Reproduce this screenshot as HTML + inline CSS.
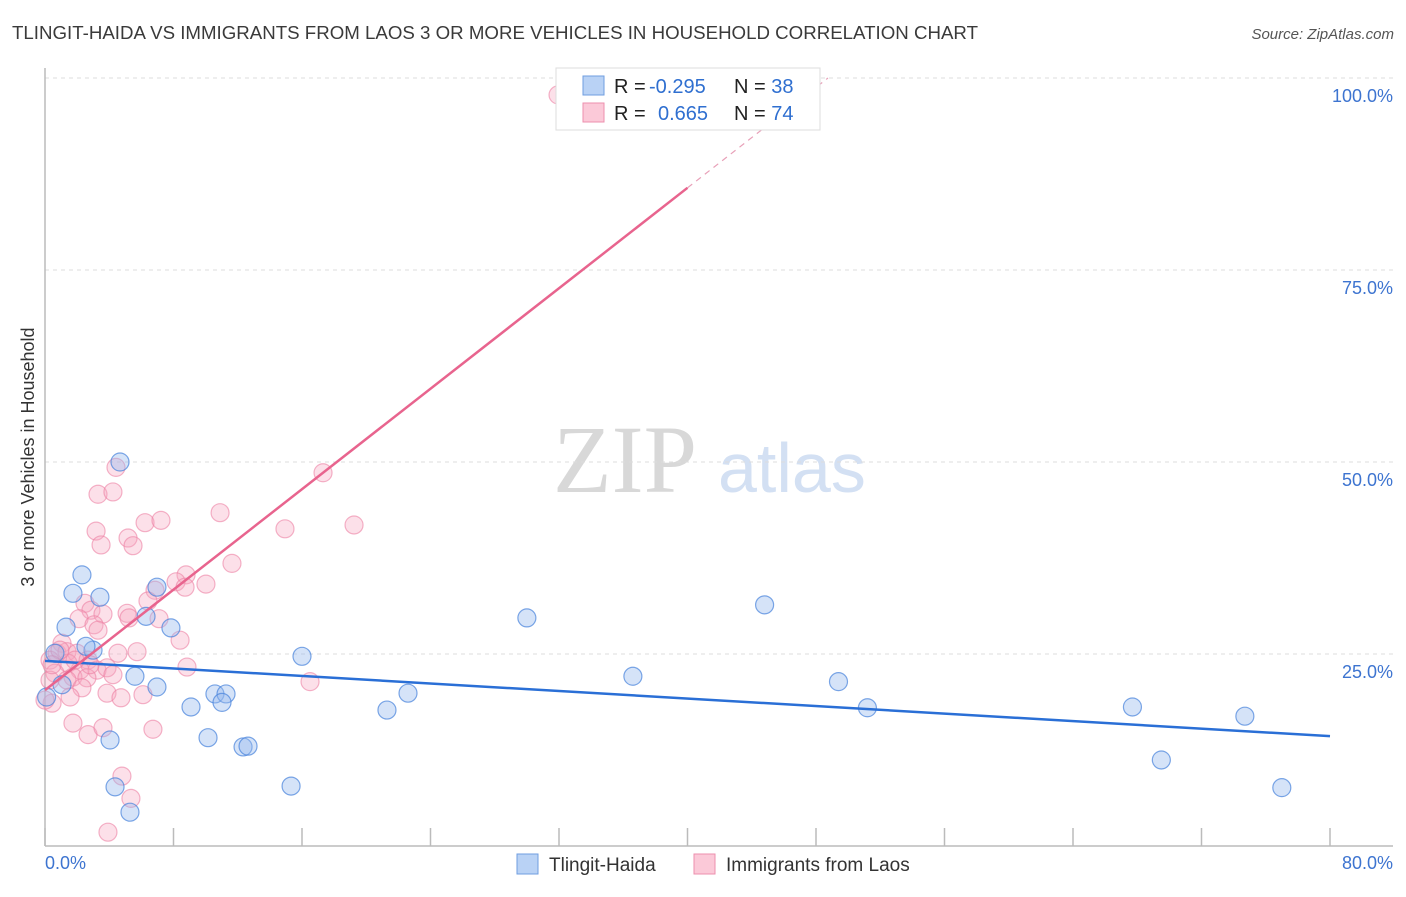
<!DOCTYPE html>
<html><head><meta charset="utf-8"><style>
body{margin:0;background:#fff;font-family:"Liberation Sans",sans-serif}
svg text{font-family:"Liberation Sans",sans-serif}
</style></head><body>
<svg id="c" width="1406" height="892" viewBox="0 0 1406 892" xmlns="http://www.w3.org/2000/svg">
<text x="12" y="39" font-size="18" fill="#3a3a3a" textLength="966" lengthAdjust="spacingAndGlyphs">TLINGIT-HAIDA VS IMMIGRANTS FROM LAOS 3 OR MORE VEHICLES IN HOUSEHOLD CORRELATION CHART</text>
<text x="1394" y="39" font-size="15" fill="#555" font-style="italic" text-anchor="end">Source: ZipAtlas.com</text>
<g>
<text x="553" y="492" font-size="96" fill="#d8d8d8" font-family="Liberation Serif,serif" style="font-family:'Liberation Serif',serif">ZIP</text>
<text x="718" y="492" font-size="70" fill="#d3e0f3">atlas</text>
</g>
<g id="grid"></g>
<g id="axes"></g>
<g id="marks"></g>
<text transform="translate(34,457) rotate(-90)" font-size="18" fill="#333" text-anchor="middle">3 or more Vehicles in Household</text>
<g>
<rect x="556" y="68" width="264" height="62" fill="#fff" stroke="#ddd"/>
<rect x="583" y="76" width="21" height="19" fill="#b9d2f5" stroke="#6f9ee0"/>
<rect x="583" y="103" width="21" height="19" fill="#fbc9d8" stroke="#ec8fae"/>
<text x="614" y="93" font-size="20" fill="#222">R = <tspan fill="#2f6fd0" x="649">-0.295</tspan></text>
<text x="734" y="93" font-size="20" fill="#222">N = <tspan fill="#2f6fd0">38</tspan></text>
<text x="614" y="120" font-size="20" fill="#222">R = <tspan fill="#2f6fd0" x="658">0.665</tspan></text>
<text x="734" y="120" font-size="20" fill="#222">N = <tspan fill="#2f6fd0">74</tspan></text>
</g>
<g>
<rect x="517" y="854" width="21" height="20" fill="#b9d2f5" stroke="#6f9ee0"/>
<text x="549" y="871" font-size="19" fill="#333">Tlingit-Haida</text>
<rect x="694" y="854" width="21" height="20" fill="#fbc9d8" stroke="#ec8fae"/>
<text x="726" y="871" font-size="19" fill="#333">Immigrants from Laos</text>
</g>
</svg>
<script>
const yTicks=[25,50,75,100];
const yTickLabels=["25.0%","50.0%","75.0%","100.0%"];
const xTickCount=10;
const blueX=[4.67,2.30,1.74,3.42,1.31,6.97,6.29,7.84,2.99,2.55,0.62,0.1,1.06,5.60,6.97,9.09,10.58,11.27,11.02,10.15,4.05,12.33,12.64,15.32,4.36,5.29,16.0,21.29,22.6,30.0,36.6,44.8,49.4,51.2,67.7,69.5,74.7,77.0];
const blueY=[50.0,35.3,32.9,32.4,28.5,33.7,29.9,28.4,25.5,26.0,25.1,19.4,21.0,22.1,20.7,18.1,19.8,19.8,18.7,14.1,13.8,12.9,13.0,7.8,7.7,4.4,24.7,17.7,19.9,29.7,22.1,31.4,21.4,18.0,18.1,11.2,16.9,7.6];
const pinkX=[4.42,3.30,4.23,17.31,10.90,6.23,7.22,3.18,3.49,5.17,5.48,14.94,19.24,11.64,8.78,8.16,8.72,10.02,6.85,6.41,2.49,2.86,3.61,2.12,5.11,5.23,7.10,3.05,3.30,8.41,4.54,5.73,8.84,1.06,0.75,1.37,1.99,2.68,0.31,1.43,2.18,3.24,3.86,4.23,1.74,2.61,0.62,0.31,1.37,2.30,1.56,0.44,3.86,4.73,6.10,16.5,1.74,2.68,3.61,6.72,4.79,5.35,3.92,0.0,31.94,0.93,0.44,2.8,1.87];
const pinkY=[49.3,45.8,46.1,48.6,43.4,42.1,42.4,41.0,39.2,40.1,39.1,41.3,41.8,36.8,35.3,34.4,33.7,34.1,33.3,31.9,31.6,30.7,30.2,29.6,30.3,29.7,29.6,28.8,28.1,26.8,25.1,25.3,23.3,26.4,25.1,25.3,25.1,24.2,24.2,23.8,22.9,22.9,23.2,22.3,22.0,21.9,22.5,21.6,21.6,20.6,19.4,18.6,19.9,19.3,19.7,21.4,16.0,14.5,15.4,15.2,9.1,6.2,1.8,19.0,97.8,25.5,23.6,23.6,24.2];
const blueLine=[24.1,14.3];
const pinkLine=[20.3,1.635];
const NS="http://www.w3.org/2000/svg";
const X=v=>45+v/80*1285, Y=v=>846-v/25*192;
function mk(t,a,p){const e=document.createElementNS(NS,t);for(const k in a)e.setAttribute(k,a[k]);p.appendChild(e);return e;}
const grid=document.getElementById('grid'),axes=document.getElementById('axes'),marks=document.getElementById('marks');
yTicks.forEach((t,i)=>{
 const l=mk('line',{x1:45,x2:1393,y1:Y(t),y2:Y(t),stroke:'#ddd','stroke-dasharray':'4,4'},grid);
 
 
 const tx=mk('text',{x:1393,y:Y(t)+24,'font-size':18,fill:'#3d74d0','text-anchor':'end'},axes);
 tx.textContent=yTickLabels[i];
 
 
});
const ya=mk('line',{x1:45,x2:45,y1:68,y2:846,stroke:'#bbb','stroke-width':1.5},axes);


const xa=mk('line',{x1:45,x2:1393,y1:846,y2:846,stroke:'#bbb','stroke-width':1.5},axes);


for(let i=0;i<=xTickCount;i++){const xx=X(i*80/xTickCount);
 const t=mk('line',{x1:xx,x2:xx,y1:828,y2:846,stroke:'#bbb','stroke-width':1.5},axes);
 
 }
const x0=mk('text',{x:45,y:869,'font-size':18,fill:'#3d74d0'},axes);x0.textContent='0.0%';


const x1=mk('text',{x:1393,y:869,'font-size':18,fill:'#3d74d0','text-anchor':'end'},axes);x1.textContent='80.0%';


pinkX.forEach((v,i)=>{const c=mk('circle',{cx:X(v),cy:Y(pinkY[i]),r:9,fill:'rgba(247,167,192,0.35)',stroke:'rgba(236,128,163,0.6)','stroke-width':1.2},marks);
 
 });
blueX.forEach((v,i)=>{const c=mk('circle',{cx:X(v),cy:Y(blueY[i]),r:9,fill:'rgba(150,186,238,0.4)',stroke:'rgba(70,130,220,0.7)','stroke-width':1.2},marks);
 
 });
const bl=mk('line',{x1:X(0),y1:Y(blueLine[0]),x2:X(80),y2:Y(blueLine[1]),stroke:'#2a6fd6','stroke-width':2.5},marks);


const pe=40, pd=(100-pinkLine[0])/pinkLine[1];
const pl=mk('line',{x1:X(0),y1:Y(pinkLine[0]),x2:X(pe),y2:Y(pinkLine[0]+pinkLine[1]*pe),stroke:'#e8648e','stroke-width':2.5},marks);


const pdl=mk('line',{x1:X(pe),y1:Y(pinkLine[0]+pinkLine[1]*pe),x2:X(pd),y2:Y(100),stroke:'#e8a0b8','stroke-width':1.2,'stroke-dasharray':'6,5'},marks);


</script>
</body></html>
